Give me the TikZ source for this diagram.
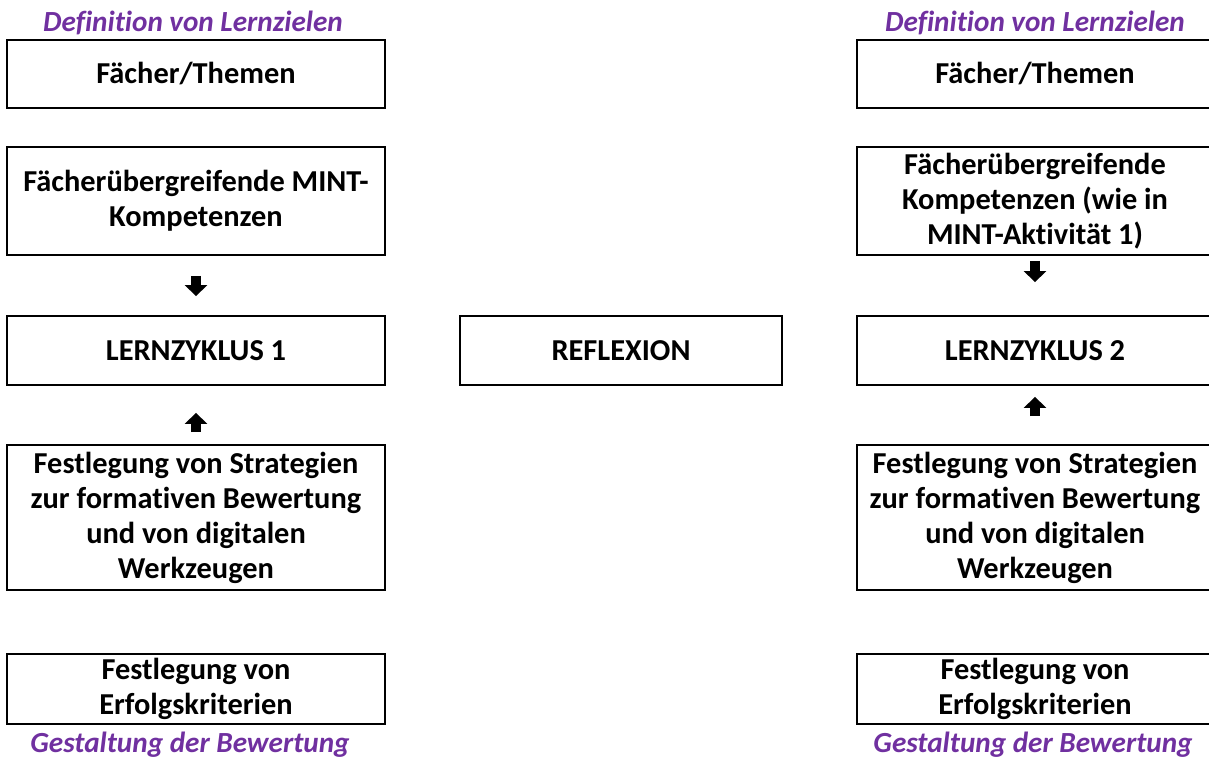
\documentclass[tikz,border=0pt]{standalone}
\usepackage{xcolor}
\usepackage{fontspec}
\setmainfont{Carlito}[Ligatures=NoCommon]
\usepackage{tikz}
\usetikzlibrary{arrows.meta, positioning}
\definecolor{GoalPurple}{HTML}{7030A0}
\tikzset{
  >=latex,  % Standardpfeile
  % Kaesten
  box/.style={draw=black,line width=0.9pt,align=center,inner sep=0pt,
    font=\fontsize{15.2}{17.5}\selectfont\bfseries},
  box left/.style={box,minimum width=189pt},
  box right/.style={box,minimum width=178pt},
  % Ueberschriften
  goal/.style={GoalPurple,font=\fontsize{14.6}{17.5}\selectfont\bfseries\itshape},
  % Blockpfeile
  block arrow/.style={-{Triangle[length=5.5pt,width=11pt]},line width=4.6pt}
}

\begin{document}
\begin{tikzpicture}[x=0.5pt,y=-0.5pt]
    \useasboundingbox (0,0) rectangle (1209,758);
    % linke Spalte
    \node[goal] (ziel1) at (193,23) {Definition von Lernzielen};
    \node[box left,minimum height=34pt] (fach1) at (196,74) {Fächer/Themen};
    \node[box left,minimum height=54pt] (mint1) at (196,201) {Fächerübergreifende MINT-\\Kompetenzen};
    \node[box left,minimum height=34.5pt] (zyklus1) at (196,350.5) {LERNZYKLUS 1};
    \node[box left,minimum height=72.5pt] (strat1) at (196,517.5) {Festlegung von Strategien\\zur formativen Bewertung\\und von digitalen\\Werkzeugen};
    \node[box left,minimum height=35pt] (erfolg1) at (196,689) {Festlegung von\\Erfolgskriterien};
    \node[goal] (bew1) at (190,745) {Gestaltung der Bewertung};
    % Mitte
    \node[box,minimum width=161pt,minimum height=34.5pt] (reflex) at (621,350.5) {REFLEXION};
    % rechte Spalte
    \node[goal] (ziel2) at (1035,23) {Definition von Lernzielen};
    \node[box right,minimum height=34pt] (fach2) at (1035,74) {Fächer/Themen};
    \node[box right,minimum height=54pt] (mint2) at (1035,201) {Fächerübergreifende\\Kompetenzen (wie in\\MINT-Aktivität 1)};
    \node[box right,minimum height=34.5pt] (zyklus2) at (1035,350.5) {LERNZYKLUS 2};
    \node[box right,minimum height=72.5pt] (strat2) at (1035,517.5) {Festlegung von Strategien\\zur formativen Bewertung\\und von digitalen\\Werkzeugen};
    \node[box right,minimum height=35pt] (erfolg2) at (1035,689) {Festlegung von\\Erfolgskriterien};
    \node[goal] (bew2) at (1033,745) {Gestaltung der Bewertung};
    % Pfeile
    \draw[block arrow,shorten <=10pt,shorten >=9.5pt] (mint1) -- (zyklus1);
    \draw[block arrow,shorten <=6pt,shorten >=13.5pt] (strat1) -- (zyklus1);
    \draw[block arrow,shorten <=2.5pt,shorten >=16.5pt] (mint2) -- (zyklus2);
    \draw[block arrow,shorten <=14pt,shorten >=5.5pt] (strat2) -- (zyklus2);
  \end{tikzpicture}
\end{document}
